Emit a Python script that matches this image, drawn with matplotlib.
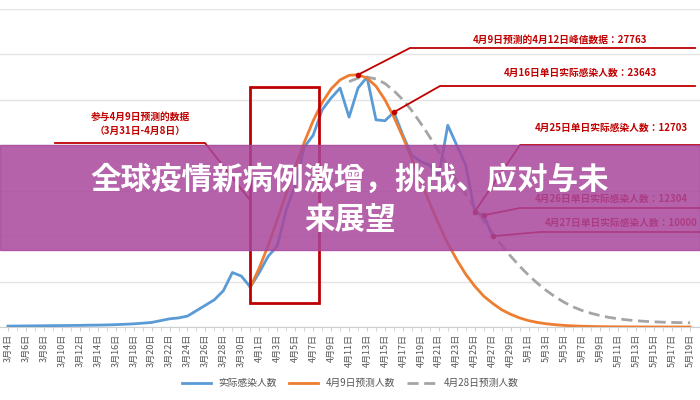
import numpy as np
import matplotlib.pyplot as plt
from matplotlib import font_manager as fm
from matplotlib.patches import Rectangle
import datetime as dt

names = sorted({f.name for f in fm.fontManager.ttflist})
cjk = [n for n in names if n == 'Noto Sans CJK SC'] or [n for n in names if 'Sans CJK' in n] or \
      [n for n in names if 'CJK' in n]
plt.rcParams['font.family'] = cjk[:1] + ['DejaVu Sans']

start = dt.date(2020, 3, 4)
days = [start + dt.timedelta(days=i) for i in range(77)]   # 3/4 .. 5/19
labels = [f"{d.month}月{d.day}日" for d in days]

# actual daily cases 3/4 .. 4/27
actual = [100, 110, 120, 130, 140, 150, 160, 170, 180, 200, 210, 230, 260, 300, 350, 420, 500,
          700, 900, 1000, 1200, 1800, 2400, 3000, 4000, 6000, 5600, 4400, 6000, 7800, 8900,
          12900, 15600, 19800, 21100, 23900, 25200, 26300, 23100, 26300, 27500, 22800, 22700,
          23643, 21100, 18900, 18200, 17800, 16700, 22200, 20000, 17800, 12700, 12300, 10000]
# 4/9 forecast, 3/31 .. 5/19
pred_0409 = [4400, 6500, 9000, 11800, 14700, 17600, 20300, 22700, 24700, 26200, 27200, 27700,
             27763, 27400, 26500, 25000, 23100, 20900, 18500, 16000, 13600, 11300, 9200, 7400,
             5800, 4500, 3400, 2600, 1900, 1400, 1000, 700, 500, 350, 250, 170, 120, 80,
             60, 40, 30, 20, 15, 10, 8, 6, 5, 4, 3, 2]
# 4/28 forecast, 4/11 .. 5/19
pred_0428 = [27000, 27400, 27500, 27300, 26800, 26000, 25000, 23800, 22400, 20900, 19300, 17700,
             16100, 14600, 13100, 11700, 10300, 9000, 7800, 6700, 5700, 4800, 4000, 3300, 2700,
             2200, 1800, 1500, 1250, 1050, 900, 780, 690, 620, 570, 530, 500, 480, 460]

RED = '#c00000'
fig = plt.figure(figsize=(7, 4), dpi=100)
ax = fig.add_axes([0, 0.1825, 1, 0.795])
x_act = np.arange(len(actual))
x_p1 = np.arange(27, 27 + len(pred_0409))
x_p2 = np.arange(38, 38 + len(pred_0428))
ax.plot(x_act, actual, color='#5b9bd5', lw=2, zorder=3, label='实际感染人数')
ax.plot(x_p1, pred_0409, color='#ed7d31', lw=2, zorder=3, label='4月9日预测人数')
ax.plot(x_p2, pred_0428, color='#a5a5a5', lw=2, ls=(0, (4, 2)), zorder=2, label='4月28日预测人数')

ax.set_xlim(-0.89, 77.1)
ax.set_ylim(0, 35000)
ax.set_yticks(range(0, 35001, 5000))
ax.yaxis.grid(True, color='#e4e4e4', lw=1)
ax.set_yticklabels([])
ax.tick_params(axis='y', length=0)
for s in ['top', 'right', 'left']:
    ax.spines[s].set_visible(False)
ax.spines['bottom'].set_color('#d0d0d0')
ax.set_xticks(range(0, 77, 2))
ax.set_xticks(range(77), minor=True)
ax.set_xticklabels(labels[::2], rotation=90, fontsize=6.5, color='#555555')
ax.tick_params(axis='x', which='both', length=3, color='#d0d0d0', pad=2)

# red box around data used for 4/9 forecast
ax.add_patch(Rectangle((27, 2650), 7.7, 23750, fill=False, ec=RED, lw=2, zorder=4))

def ann(px, py, tx, ty, x_end, text, tx_text, ty_text, ha='center'):
    ax.plot([px], [py], 'o', color=RED, ms=3, zorder=5)
    p = ax.transData.transform((px, py))
    pf = fig.transFigure.inverted().transform(p)
    fig.add_artist(plt.Line2D([pf[0], tx / 700, x_end / 700], [pf[1], 1 - ty / 400, 1 - ty / 400],
                              color=RED, lw=1.3, zorder=1))
    fig.text(tx_text / 700, 1 - ty_text / 400, text, color=RED, fontsize=7, fontweight='bold',
             ha=ha, va='center', zorder=1)

ann(39, 27763, 410, 48, 695, '4月9日预测的4月12日峰值数据：27763', 560, 40)
ann(43, 23643, 440, 86, 695, '4月16日单日实际感染人数：23643', 580, 73)
ann(52, 12700, 520, 145, 700, '4月25日单日实际感染人数：12703', 535, 128, 'left')
ann(53, 12300, 520, 208, 700, '4月26日单日实际感染人数：12304', 535, 199, 'left')
ann(54, 10000, 540, 232, 700, '4月27日单日实际感染人数：10000', 545, 223, 'left')
fig.add_artist(plt.Line2D([55 / 700, 205 / 700, 250 / 700], [1 - 143 / 400, 1 - 143 / 400, 1 - 200 / 400],
                          color=RED, lw=1.3, zorder=1))
fig.text(140 / 700, 1 - 124 / 400, '参与4月9日预测的数据\n（3月31日-4月8日）', color=RED, fontsize=7,
         fontweight='bold', ha='center', va='center', linespacing=1.6)

fig.legend(loc='center', bbox_to_anchor=(0.5, 1 - 383 / 400), ncol=3, frameon=False, fontsize=7,
           handlelength=3, columnspacing=1.2, labelcolor='#555555')

# title banner
fig.add_artist(Rectangle((0, 1 - 250 / 400), 1, 105 / 400, transform=fig.transFigure,
                         color='#a8479c', alpha=0.85, zorder=10))
fig.text(0.5, 1 - 200 / 400, '全球疫情新病例激增，挑战、应对与未\n来展望', color='white', fontsize=22,
         fontweight='bold', ha='center', va='center', linespacing=1.35, zorder=11)

fig.savefig('out.png', dpi=100)
